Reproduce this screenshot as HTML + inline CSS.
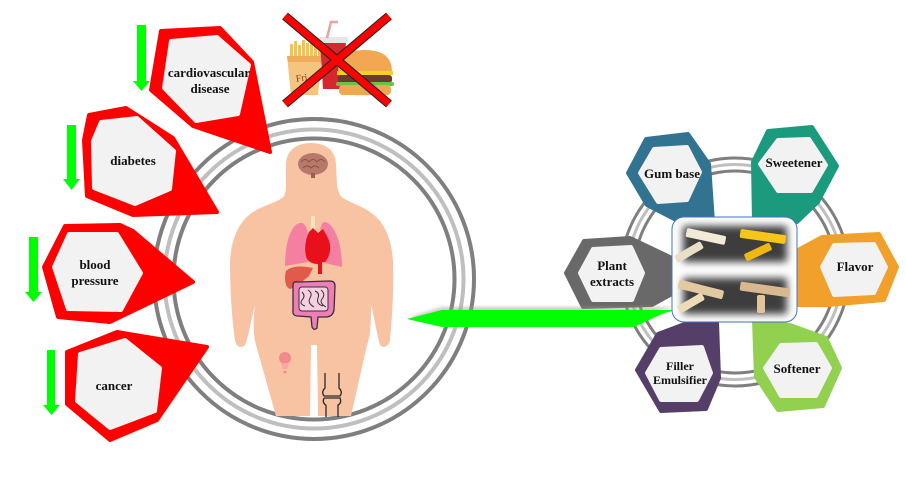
<!DOCTYPE html>
<html><head><meta charset="utf-8"><style>
html,body{margin:0;padding:0;background:#fff;}
svg{display:block;}
text{font-family:"Liberation Serif",serif;font-weight:bold;fill:#111;text-anchor:middle;}
</style></head><body>
<svg width="906" height="504" viewBox="0 0 906 504" xmlns="http://www.w3.org/2000/svg">
<defs>
<filter id="bl" x="-20%" y="-20%" width="140%" height="140%"><feGaussianBlur stdDeviation="4"/></filter>
<filter id="bs" x="-20%" y="-50%" width="140%" height="200%"><feGaussianBlur stdDeviation="1.5"/></filter>
</defs>

<!-- left big circle rings -->
<circle cx="314" cy="279" r="160" fill="none" stroke="#7f7f7f" stroke-width="4"/>
<circle cx="314" cy="279" r="149.5" fill="none" stroke="#bfbfbf" stroke-width="4"/>
<circle cx="314" cy="279" r="140.5" fill="none" stroke="#7f7f7f" stroke-width="4"/>

<!-- body -->
<path d="M311 143 C325 143 336 150 336 165 L337 185 C338 192 340 196 343 198 C351 203 362 206 370 212 C385 222 392 240 393 262 C394 290 392 320 390 340 C389 346 384 349 380 345 C377 335 375 320 371 305 C371 320 371 335 367 345 L351 416 L318 416 L317 345 L311 345 L310 416 L276 416 L256 345 C253 335 253 320 255 305 C251 320 249 335 245 345 C241 349 236 347 235 340 C232 320 230 290 230 262 C231 240 238 222 253 212 C262 206 275 203 282 198 C285 196 286 192 286 185 L286 165 C286 150 297 143 311 143 Z" fill="#f8c3a3"/>
<!-- brain -->
<ellipse cx="313" cy="164" rx="15" ry="11" fill="#b77a6a"/>
<path d="M301 162 q4 -5 8 0 q4 -5 8 0 q4 -5 8 0 M303 168 q4 -4 8 0 q4 -4 8 0" stroke="#8a5345" stroke-width="1" fill="none"/>
<rect x="311" y="173" width="4" height="5" fill="#9a5e50"/>
<!-- trachea -->
<rect x="311" y="216" width="4" height="17" fill="#f3e4c4"/>
<!-- lungs -->
<path d="M300 223 C290 225 285 245 285 266 L308 262 L308 235 C307 226 304 222 300 223 Z" fill="#f57fa0"/>
<path d="M325 222 C335 224 342 245 342 267 L320 262 L320 235 C320 226 322 222 325 222 Z" fill="#f57fa0"/>
<!-- heart -->
<path d="M309 232 L313 228 L318 233 L323 229 L327 236 C332 245 331 255 325 262 L322 262 L322 274 L318 274 L318 264 C313 264 307 262 306 256 C304 248 306 238 309 232 Z" fill="#e8111b"/>
<!-- liver -->
<path d="M286 271 C292 265 305 266 313 268 L309 276 C303 281 296 287 290 289 C285 287 284 278 286 271 Z" fill="#e25a4a"/>
<!-- intestines -->
<path d="M293 285 Q293 281 298 282 L330 281 Q335 281 335 286 L334 310 Q333 316 327 317 L318 317 L317 328 Q314 331 312 327 L311 317 L298 316 Q292 316 293 310 Z" fill="#f07cb8" stroke="#333" stroke-width="1.3"/>
<rect x="299" y="287" width="29" height="24" rx="3" fill="#f6cfe0" stroke="#333" stroke-width="1"/>
<path d="M302 292 q4 4 0 8 q-3 4 3 6 M308 290 q5 3 2 8 q-3 5 4 9 M315 291 q5 2 3 7 q-2 6 5 8 M321 290 q5 4 1 9 q-3 4 4 8" stroke="#333" stroke-width="1" fill="none"/>
<!-- bladder -->
<circle cx="285" cy="358" r="6" fill="#f28a8a"/>
<path d="M281 363 L289 363 L287 369 L283 369 Z" fill="#f6a6a6"/>
<circle cx="285" cy="372" r="1.5" fill="#f28a8a"/>
<!-- knee -->
<path d="M325 373 L325 388 Q321 392 324 396 L340 396 Q343 392 339 388 L339 373" stroke="#2a2a2a" stroke-width="1.3" fill="#f8c3a3"/>
<path d="M324 398 L340 398 Q342 403 338 405 L338 417 M326 405 L326 417 M324 398 Q322 403 326 405" stroke="#2a2a2a" stroke-width="1.3" fill="none"/>

<!-- food -->
<g>
  <g fill="#f6c445">
    <rect x="290" y="44" width="3" height="16"/><rect x="294" y="41" width="3" height="18"/>
    <rect x="298" y="45" width="3" height="14"/><rect x="302" y="40" width="3" height="18"/>
    <rect x="306" y="43" width="3" height="16"/><rect x="310" y="42" width="3" height="17"/>
    <rect x="314" y="46" width="3" height="13"/><rect x="318" y="44" width="3" height="15"/>
  </g>
  <path d="M287 56 L322 56 L318 95 L291 95 Z" fill="#f5c57e"/>
  <path d="M287 56 L322 56 L321 62 L288 62 Z" fill="#eeac5a"/>
  <text x="302" y="81" style="font-size:10px;font-weight:normal;fill:#8a3b2b" transform="rotate(-8 302 81)">Fri</text>
  <path d="M320 42 L346 42 L343 89 L323 89 Z" fill="#d6272f"/>
  <rect x="318" y="37" width="30" height="6" rx="2" fill="#e6e6e6"/>
  <path d="M327 38 L331 22 L338 22" stroke="#e8a0a0" stroke-width="2.5" fill="none"/>
  <path d="M338 72 Q338 50 365 50 Q392 50 392 72 Z" fill="#f2a852"/>
  <rect x="337" y="71" width="56" height="4" fill="#f5d020"/>
  <rect x="338" y="75" width="54" height="8" rx="3" fill="#6b3a2a"/>
  <rect x="336" y="82" width="58" height="4" rx="2" fill="#6cc04a"/>
  <rect x="339" y="85" width="52" height="10" rx="4" fill="#f0a850"/>
</g>
<!-- red X -->
<g stroke-linecap="butt">
  <line x1="285" y1="16" x2="389" y2="104" stroke="#222" stroke-width="9"/>
  <line x1="389" y1="16" x2="285" y2="104" stroke="#222" stroke-width="9"/>
  <line x1="285" y1="16" x2="389" y2="104" stroke="#ff0000" stroke-width="7"/>
  <line x1="389" y1="16" x2="285" y2="104" stroke="#ff0000" stroke-width="7"/>
</g>

<!-- red callouts -->
<g fill="#ff0000" stroke="#ff0000" stroke-width="4" stroke-linejoin="round">
  <polygon points="161,31 220,28 252,62 270,152 193,126 151,90"/>
  <polygon points="89,115 126,108 173,138 217,212 133,215 87,196 84,140"/>
  <polygon points="44,267 65,226 120,225 133,231 193,282 110,322 58,317"/>
  <polygon points="67,352 117,332 207,347 157,420 110,440 67,404"/>
</g>
<g fill="#f2f2f2" stroke="#f2f2f2" stroke-width="4" stroke-linejoin="round">
  <polygon points="171,41 217,37 249,65 238,114 196,121 164,88"/>
  <polygon points="101,122 137,118 174,151 170,189 135,204 94,188 93,141"/>
  <polygon points="54,267 69,234 117,234 141,273 121,310 68,309"/>
  <polygon points="80,354 125,340 160,368 155,411 110,428 77,401"/>
</g>
<text x="209" y="77" style="font-size:13px">cardiovascular</text>
<text x="210" y="93" style="font-size:13px">disease</text>
<text x="133" y="165" style="font-size:13px">diabetes</text>
<text x="95" y="269" style="font-size:13px">blood</text>
<text x="95" y="285" style="font-size:13px">pressure</text>
<text x="114" y="390" style="font-size:13px">cancer</text>

<!-- green down arrows -->
<g fill="#00ff00">
  <polygon points="137,25 146,25 146,81 150,81 141.5,91 133,81 137,81"/>
  <polygon points="67,125 76,125 76,179 80,179 71.5,190 63,179 67,179"/>
  <polygon points="29,237 38,237 38,292 42,292 33.5,302 25,292 29,292"/>
  <polygon points="47,350 55,350 55,405 60,405 51.5,415 43,405 47,405"/>
</g>

<!-- right rings -->
<circle cx="735" cy="272" r="114" fill="none" stroke="#7f7f7f" stroke-width="3"/>
<circle cx="735" cy="272" r="107.5" fill="none" stroke="#bfbfbf" stroke-width="3"/>
<circle cx="735" cy="272" r="101" fill="none" stroke="#7f7f7f" stroke-width="3"/>

<!-- right hexes -->
<g stroke-width="4" stroke-linejoin="round">
  <polygon points="628,173 646,139 688,134 709,164 713,222 680,222 647,205" fill="#327391" stroke="#327391"/>
  <polygon points="753,162 768,131 812,127 837,166 818,202 797,222 754,222" fill="#1b9a7e" stroke="#1b9a7e"/>
  <polygon points="798,250 822,237 879,234 897,267 884,300 828,305 798,305" fill="#f0a02b" stroke="#f0a02b"/>
  <polygon points="754,320 790,325 826,338 840,368 823,406 778,410 756,377" fill="#92d050" stroke="#92d050"/>
  <polygon points="637,370 658,334 690,322 717,322 719,378 706,409 661,411" fill="#553f69" stroke="#553f69"/>
  <polygon points="566,273 584,241 630,238 672,258 672,294 652,305 583,307" fill="#696969" stroke="#696969"/>
</g>
<g fill="#f2f2f2" stroke="#f2f2f2" stroke-width="4" stroke-linejoin="round">
  <polygon points="640,173 654,149 687,147 700,172 687,200 658,202"/>
  <polygon points="760,164 778,140 809,139 826,165 811,191 778,191"/>
  <polygon points="822,267 834,245 874,244 886,267 874,293 834,295"/>
  <polygon points="765,368 781,345 816,344 830,368 816,396 781,396"/>
  <polygon points="647,373 661,349 702,347 711,373 697,400 661,400"/>
  <polygon points="580,273 593,249 631,247 643,273 632,300 593,300"/>
</g>
<text x="672" y="178" style="font-size:13px">Gum base</text>
<text x="794" y="167" style="font-size:13px">Sweetener</text>
<text x="855" y="271" style="font-size:13px">Flavor</text>
<text x="797" y="373" style="font-size:13px">Softener</text>
<text x="680" y="370" style="font-size:12px">Filler</text>
<text x="680" y="384" style="font-size:12px">Emulsifier</text>
<text x="612" y="270" style="font-size:13px">Plant</text>
<text x="612" y="286" style="font-size:13px">extracts</text>

<!-- green big arrow -->
<polygon points="409,317 442,307 673,307 660,311 634,324 442,324" fill="#999" opacity="0.5" filter="url(#bs)"/>
<polygon points="407,319 442,310 675,310 662,314 634,327 442,327" fill="#00ff00"/>

<!-- photo box -->
<rect x="672" y="217" width="125" height="105" rx="12" fill="#fff" stroke="#4472c4" stroke-width="1"/>
<g filter="url(#bl)">
  <rect x="683" y="226" width="104" height="36" fill="#3e3e3e"/>
  <rect x="683" y="278" width="104" height="36" fill="#3e3e3e"/>
</g>
<g>
  <rect x="686" y="232" width="40" height="9" rx="2" fill="#f1ead6" transform="rotate(12 706 236)"/>
  <rect x="674" y="248" width="30" height="8" rx="2" fill="#e8dfc6" transform="rotate(-30 689 252)"/>
  <rect x="740" y="232" width="46" height="9" rx="2" fill="#f5c518" transform="rotate(8 763 236)"/>
  <rect x="744" y="248" width="28" height="8" rx="2" fill="#eeb810" transform="rotate(-25 758 252)"/>
  <rect x="678" y="285" width="46" height="9" rx="2" fill="#e3c9a0" transform="rotate(14 701 289)"/>
  <rect x="677" y="299" width="28" height="8" rx="2" fill="#eedcb8" transform="rotate(-30 691 303)"/>
  <rect x="740" y="285" width="50" height="9" rx="2" fill="#d8b88e" transform="rotate(8 765 289)"/>
  <rect x="757" y="295" width="8" height="18" rx="2" fill="#e3c49a"/>
</g>
</svg>
</body></html>
